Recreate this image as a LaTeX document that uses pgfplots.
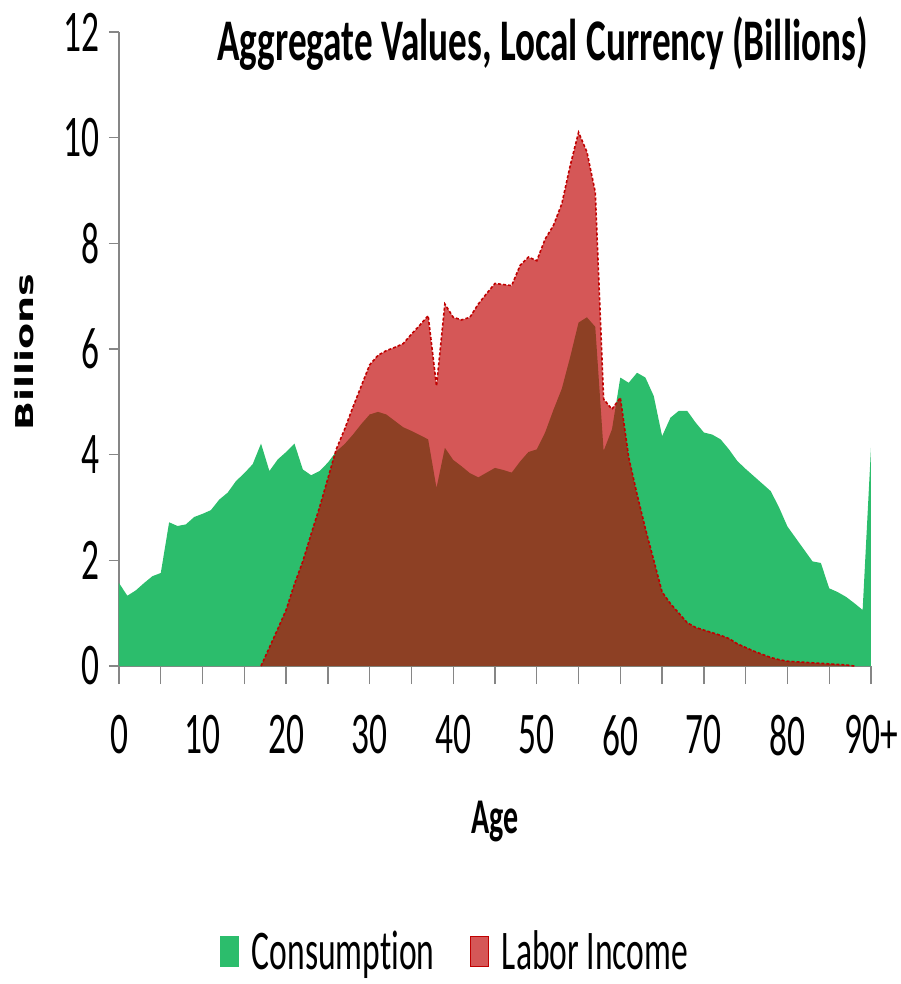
\documentclass[border=0pt]{standalone}
\usepackage{pgfplots}
\pgfplotsset{compat=1.18}
\usepackage{fontspec}
\setmainfont{Carlito}[FakeStretch=0.6, Ligatures=CommonOff]
\newfontfamily\titlefont{Carlito}[FakeStretch=0.63, Ligatures=CommonOff]
\newfontfamily\ylabfont{DejaVu Sans}[FakeStretch=1.55]
\definecolor{cgreen}{RGB}{44,189,108}
\definecolor{cred}{RGB}{192,0,0}
\definecolor{axgray}{RGB}{134,134,134}
\begin{document}
\begin{tikzpicture}
\useasboundingbox (-59.5pt,-159pt) rectangle (390.5pt,333pt);
\begin{axis}[
  at={(0,0)}, anchor=south west,
  scale only axis, width=376pt, height=317pt,
  clip mode=individual,
  xmin=0, xmax=90, ymin=0, ymax=12,
  axis lines*=left,
  axis line style={axgray, line width=0.7pt},
  xtick={0,10,...,90}, xticklabels={0,10,20,30,40,50,60,70,80,90+},
  minor xtick={5,15,...,85},
  ytick={0,2,...,12},
  tick align=outside,
  tick style={axgray, line width=0.7pt},
  major tick length=5pt, minor tick length=9pt,
  xtick style={/pgfplots/major tick length=9pt},
  /pgf/number format/assume math mode=true,
  ticklabel style={font=\fontsize{29.5pt}{29.5pt}\selectfont, inner sep=0pt, black},
  xticklabel style={yshift=-19.5pt},
  yticklabel style={xshift=-4.5pt},
  legend style={at={(0.449,-0.450)}, anchor=center, draw=none, fill=none,
    font=\fontsize{28pt}{28pt}\selectfont, nodes={inner sep=2.5pt},
    /tikz/every odd column/.style={column sep=4pt},
    /tikz/every even column/.style={column sep=15pt}},
  legend columns=2,
  legend cell align=left,
]
\addplot[fill=cgreen, draw=none, forget plot] coordinates {
(0,1.57) (1,1.33) (2,1.43) (3,1.57) (4,1.70) (5,1.76) (6,2.72) (7,2.65) (8,2.68) (9,2.82)
(10,2.88) (11,2.95) (12,3.15) (13,3.28) (14,3.50) (15,3.65) (16,3.82) (17,4.21) (18,3.69) (19,3.91)
(20,4.05) (21,4.21) (22,3.72) (23,3.61) (24,3.69) (25,3.85) (26,4.06) (27,4.20) (28,4.38) (29,4.58)
(30,4.76) (31,4.81) (32,4.76) (33,4.64) (34,4.52) (35,4.45) (36,4.37) (37,4.29) (38,3.37) (39,4.13)
(40,3.90) (41,3.78) (42,3.65) (43,3.57) (44,3.66) (45,3.75) (46,3.71) (47,3.66) (48,3.87) (49,4.05)
(50,4.10) (51,4.42) (52,4.85) (53,5.25) (54,5.85) (55,6.50) (56,6.60) (57,6.42) (58,4.07) (59,4.48)
(60,5.46) (61,5.36) (62,5.55) (63,5.46) (64,5.11) (65,4.35) (66,4.70) (67,4.83) (68,4.83) (69,4.61)
(70,4.42) (71,4.38) (72,4.29) (73,4.10) (74,3.88) (75,3.73) (76,3.59) (77,3.45) (78,3.31) (79,3.00)
(80,2.64) (81,2.42) (82,2.20) (83,1.98) (84,1.95) (85,1.47) (86,1.40) (87,1.31) (88,1.19) (89,1.06)
(90,4.13)
} \closedcycle;
\addplot[fill=cred, fill opacity=0.66, draw=none, forget plot] coordinates {
(17,0) (18,0.35) (19,0.70)
(20,1.06) (21,1.55) (22,1.98) (23,2.50) (24,3.00) (25,3.55) (26,4.10) (27,4.48) (28,4.90) (29,5.30)
(30,5.70) (31,5.88) (32,5.97) (33,6.03) (34,6.10) (35,6.28) (36,6.45) (37,6.63) (38,5.30) (39,6.85)
(40,6.60) (41,6.55) (42,6.60) (43,6.85) (44,7.05) (45,7.24) (46,7.22) (47,7.20) (48,7.58) (49,7.74)
(50,7.67) (51,8.08) (52,8.34) (53,8.75) (54,9.47) (55,10.10) (56,9.73) (57,8.97) (58,5.05) (59,4.86)
(60,5.08) (61,3.95) (62,3.25) (63,2.60) (64,2.00) (65,1.40) (66,1.18) (67,1.00) (68,0.82) (69,0.73)
(70,0.68) (71,0.63) (72,0.58) (73,0.52) (74,0.42) (75,0.35) (76,0.28) (77,0.22) (78,0.16) (79,0.12)
(80,0.09) (81,0.08) (82,0.07) (83,0.06) (84,0.05) (85,0.04) (86,0.03) (87,0.02) (88,0)
} \closedcycle;
\addplot[cred, line width=0.8pt, dash pattern=on 1.5pt off 1pt, forget plot] coordinates {
(17,0) (18,0.35) (19,0.70)
(20,1.06) (21,1.55) (22,1.98) (23,2.50) (24,3.00) (25,3.55) (26,4.10) (27,4.48) (28,4.90) (29,5.30)
(30,5.70) (31,5.88) (32,5.97) (33,6.03) (34,6.10) (35,6.28) (36,6.45) (37,6.63) (38,5.30) (39,6.85)
(40,6.60) (41,6.55) (42,6.60) (43,6.85) (44,7.05) (45,7.24) (46,7.22) (47,7.20) (48,7.58) (49,7.74)
(50,7.67) (51,8.08) (52,8.34) (53,8.75) (54,9.47) (55,10.10) (56,9.73) (57,8.97) (58,5.05) (59,4.86)
(60,5.08) (61,3.95) (62,3.25) (63,2.60) (64,2.00) (65,1.40) (66,1.18) (67,1.00) (68,0.82) (69,0.73)
(70,0.68) (71,0.63) (72,0.58) (73,0.52) (74,0.42) (75,0.35) (76,0.28) (77,0.22) (78,0.16) (79,0.12)
(80,0.09) (81,0.08) (82,0.07) (83,0.06) (84,0.05) (85,0.04) (86,0.03) (87,0.02) (88,0)
};
\addlegendimage{legend image code/.code={\fill[cgreen] (0pt,-7.5pt) rectangle (9pt,7.5pt);}}
\addlegendentry{Consumption}
\addlegendimage{legend image code/.code={\fill[cred, fill opacity=0.66] (0pt,-7.5pt) rectangle (9pt,7.5pt); \draw[cred, line width=0.6pt, dash pattern=on 1.2pt off 0.8pt] (0pt,-7.5pt) rectangle (9pt,7.5pt);}}
\addlegendentry{Labor Income}
\node[anchor=north east, inner sep=0pt, font=\titlefont\bfseries\fontsize{29.5pt}{29.5pt}\selectfont, xshift=-1.5pt, yshift=8pt] at (rel axis cs:1,1) {Aggregate Values, Local Currency (Billions)};
\node[anchor=base, inner sep=0pt, font=\bfseries\fontsize{25pt}{25pt}\selectfont, yshift=-83.5pt] at (rel axis cs:0.5,0) {Age};
\node[xshift=-47.5pt, rotate=90, anchor=center, inner sep=0pt, font=\ylabfont\bfseries\fontsize{12.3pt}{12.3pt}\selectfont] at (rel axis cs:0,0.495) {Billions};
\end{axis}
\end{tikzpicture}
\end{document}
